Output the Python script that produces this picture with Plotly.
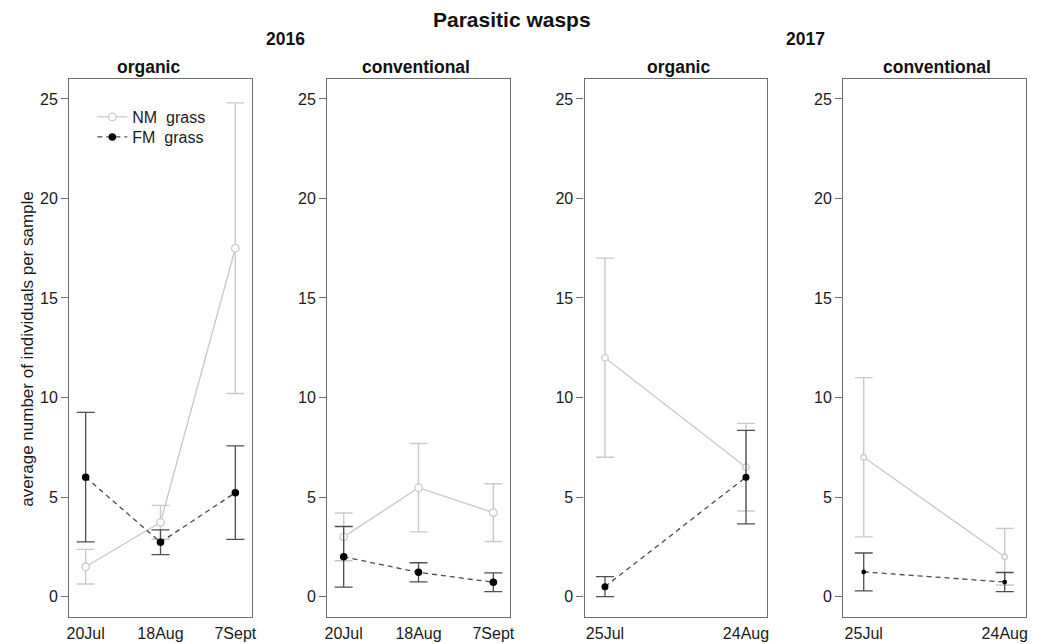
import plotly.graph_objects as go

# Sampling dates per year
dates_2016 = ["20Jul", "18Aug", "7Sept"]
dates_2017 = ["25Jul", "24Aug"]

# Panel headers
panel_years = ["2016", "2016", "2017", "2017"]
panel_systems = ["organic", "conventional", "organic", "conventional"]
panel_dates = [dates_2016, dates_2016, dates_2017, dates_2017]

# NM grass: mean and error (+/-) per panel
nm_mean = [[1.5, 3.73, 17.5], [3.0, 5.47, 4.22], [12.0, 6.5], [7.0, 2.0]]
nm_err = [[0.87, 0.85, 7.3], [1.2, 2.22, 1.45], [5.0, 2.2], [4.0, 1.42]]

# FM grass: mean and error (+/-) per panel
fm_mean = [[6.0, 2.73, 5.22], [2.0, 1.22, 0.72], [0.5, 6.0], [1.24, 0.73]]
fm_err = [[3.25, 0.62, 2.35], [1.52, 0.48, 0.47], [0.5, 2.35], [0.95, 0.48]]

y_ticks = [0, 5, 10, 15, 20, 25]

# layout / style
FONT = "Liberation Sans, Arial, sans-serif"
NM_COL = "#c9c9c9"
FM_COL = "#000000"
FM_LINE = "#4a4a4a"
FRAME = "#6e6e6e"
W, H = 1052, 644
x_domains = [(66.7, 250.7), (326.7, 510.7), (586.0, 770.0), (846.7, 1030.7)]
y_domain = ((644 - 616.5) / H, (644 - 79) / H)
x_ranges = [(0.78, 3.22), (0.78, 3.22), (0.855, 2.15), (0.855, 2.15)]
nm_size = [7.5, 7.5, 6.5, 5.5]
fm_size = [7.5, 7.5, 7.0, 4.8]

fig = go.Figure()

for i in range(4):
    n = i + 1
    xa = "x" if n == 1 else f"x{n}"
    ya = "y" if n == 1 else f"y{n}"
    xs = list(range(1, len(panel_dates[i]) + 1))

    fig.add_trace(go.Scatter(
        x=xs, y=nm_mean[i], xaxis=xa, yaxis=ya,
        mode="lines+markers", name="NM\u00a0 grass", legend="legend",
        showlegend=(i == 0),
        line=dict(color=NM_COL, width=1.4),
        marker=dict(symbol="circle", size=nm_size[i], color="white",
                    line=dict(color=NM_COL, width=1.3)),
        error_y=dict(type="data", array=nm_err[i], visible=True,
                     color=NM_COL, thickness=1.4, width=9),
    ))
    fig.add_trace(go.Scatter(
        x=xs, y=fm_mean[i], xaxis=xa, yaxis=ya,
        mode="lines+markers", name="FM\u00a0 grass", legend="legend2",
        showlegend=(i == 0),
        line=dict(color=FM_LINE, width=1.3, dash="5px,4px"),
        marker=dict(symbol="circle", size=fm_size[i], color=FM_COL,
                    line=dict(color=FM_COL, width=0)),
        error_y=dict(type="data", array=fm_err[i], visible=True,
                     color="#505050", thickness=1.3, width=9),
    ))

    x0, x1 = x_domains[i]
    fig.layout[f"xaxis{'' if n == 1 else n}"] = dict(
        domain=[x0 / W, x1 / W], anchor=ya, range=list(x_ranges[i]),
        tickmode="array", tickvals=xs, ticktext=panel_dates[i],
        ticks="outside", ticklen=2, tickcolor="rgba(0,0,0,0)",
        showgrid=False, zeroline=False,
        showline=True, mirror=True, linecolor=FRAME, linewidth=1.3,
        tickfont=dict(family=FONT, size=16, color="#1a1a1a"),
        fixedrange=True,
    )
    fig.layout[f"yaxis{'' if n == 1 else n}"] = dict(
        domain=list(y_domain), anchor=xa, range=[-1, 26],
        tickmode="array", tickvals=y_ticks,
        ticks="outside", ticklen=7, tickcolor=FRAME, tickwidth=1.2,
        showgrid=False, zeroline=False,
        showline=True, mirror=True, linecolor=FRAME, linewidth=1.3,
        tickfont=dict(family=FONT, size=16, color="#1a1a1a"),
        fixedrange=True,
    )

annotations = []
title_x = [147, 416, 681, 941]
for i in range(4):
    annotations.append(dict(
        text=f"<b>{panel_systems[i]}</b>", x=title_x[i] / W, y=(644 - 67) / H,
        xref="paper", yref="paper", xanchor="center", yanchor="middle",
        showarrow=False, font=dict(family=FONT, size=17.5, color="#111")))
for yr, cx in (("2016", 285), ("2017", 808.5)):
    annotations.append(dict(
        text=f"<b>{yr}</b>", x=cx / W, y=(644 - 39) / H,
        xref="paper", yref="paper", xanchor="center", yanchor="middle",
        showarrow=False, font=dict(family=FONT, size=17.5, color="#111")))
annotations.append(dict(
    text="<b>Parasitic wasps</b>", x=513 / W, y=(644 - 20) / H,
    xref="paper", yref="paper", xanchor="center", yanchor="middle",
    showarrow=False, font=dict(family=FONT, size=21, color="#111")))
annotations.append(dict(
    text="average number of individuals per sample", x=24 / W, y=(644 - 349) / H,
    xref="paper", yref="paper", xanchor="center", yanchor="middle",
    textangle=-90, showarrow=False,
    font=dict(family=FONT, size=17, color="#1a1a1a")))

legend_style = dict(xanchor="left", yanchor="top", bgcolor="rgba(0,0,0,0)",
                    borderwidth=0, tracegroupgap=0,
                    font=dict(family=FONT, size=16, color="#1a1a1a"),
                    itemclick=False, itemdoubleclick=False)

fig.update_layout(
    width=W, height=H,
    margin=dict(l=0, r=0, t=0, b=0),
    paper_bgcolor="white", plot_bgcolor="white",
    annotations=annotations,
    showlegend=True,
    legend=dict(x=90 / W, y=(644 - 100) / H, **legend_style),
    legend2=dict(x=90 / W, y=(644 - 120) / H, **legend_style),
)

fig.write_html("out.html")
